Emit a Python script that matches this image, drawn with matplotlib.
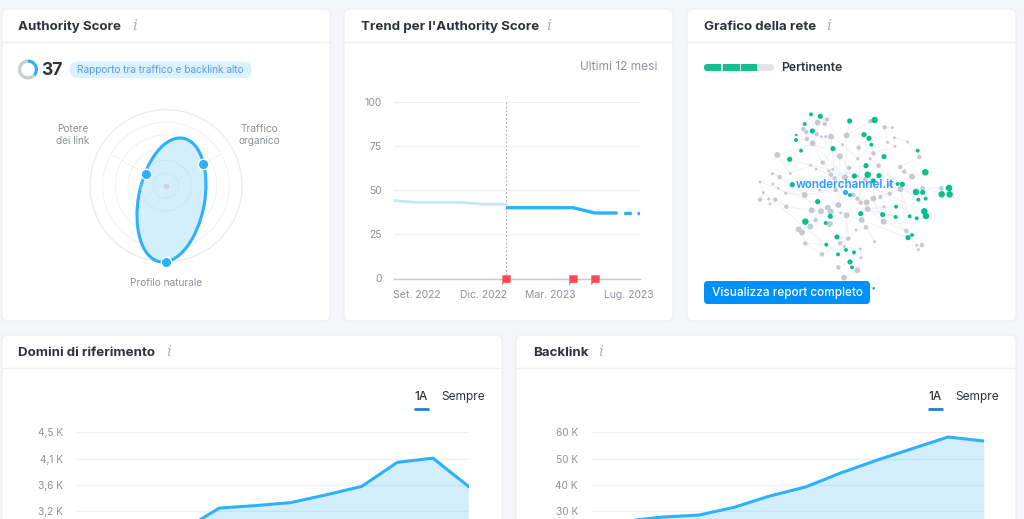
import numpy as np
import matplotlib
matplotlib.use("Agg")
import matplotlib.pyplot as plt
from matplotlib.patches import FancyBboxPatch, Ellipse, Circle, Rectangle
from matplotlib.path import Path

plt.rcParams['font.family'] = ['Inter', 'DejaVu Sans']

W, H = 1024, 519

# radar
radar_labels = ["Potere\ndei link", "Traffico\norganico", "Profilo naturale"]
radar_angles = [150, 30, 270]
radar_values = [31, 56, 100]
authority_score = 37

# trend
trend_past_x = [0, 1, 2, 3, 4, 5]
trend_past = [44, 43, 43, 43, 42, 42]
trend_now_x = [5, 6, 7, 8, 9, 10]
trend_now = [40, 40, 40, 40, 37, 37]
trend_next_x = [10, 11]
trend_next = [37, 37]
trend_flags = [5, 8, 9]
trend_ticks = [1, 4, 7, 10.5]
trend_ticklabels = ["Set. 2022", "Dic. 2022", "Mar. 2023", "Lug. 2023"]
trend_yticks = [0, 25, 50, 75, 100]

# network, read in 3x pixels of the crop
green_nodes = [(183,43,2),(211,49,3),(164,72,2),(187,93,3),(139,105,1),(138,120,2),(299,63,3),(374,60,4),
    (342,104,3),(357,115,3),(364,134,2),(249,146,3),(153,152,2),(119,178,3),(402,170,3),(503,152,2),
    (348,197,3),(526,217,4),(313,228,3),(353,224,4),(387,227,3),(127,254,3),(370,243,3),(443,252,2),
    (457,253,3),(498,276,4),(518,277,3),(575,283,4),(599,283,4),(597,264,4),(505,299,2),(527,296,2),
    (203,305,3),(300,285,2),(438,320,2),(523,334,4),(528,348,4),(332,341,3),(398,344,3),(437,351,2),
    (479,349,2),(500,355,2),(241,349,3),(166,365,4),(227,369,2),(486,405,2),(474,413,3),(261,411,3),
    (229,434,2),(288,450,2),(264,463,2),(312,457,2),(300,486,3),(306,502,2),(371,565,1)]
grey_nodes = [(203,68,3),(231,58,2),(224,72,2),(160,87,2),(169,96,2),(200,103,2),(214,110,1),(227,110,1),
    (243,110,3),(171,117,2),(188,130,3),(290,106,3),(361,64,2),(404,82,2),(427,83,1),(413,127,1),
    (433,113,1),(435,139,1),(473,126,1),(278,135,1),(326,143,2),(370,160,2),(270,169,3),(82,165,3),
    (323,176,1),(360,176,1),(218,188,2),(182,196,1),(198,207,1),(297,204,2),(386,197,2),(451,201,2),
    (463,215,2),(486,230,3),(508,171,2),(236,213,1),(248,208,1),(243,224,2),(254,235,2),(285,232,3),
    (323,228,1),(346,238,2),(67,221,1),(89,231,2),(121,220,1),(30,246,1),(68,252,1),(85,265,1),
    (107,280,1),(40,278,1),(30,299,2),(56,297,1),(76,299,2),(60,312,1),(109,320,2),(164,285,3),
    (209,270,1),(257,270,2),(265,315,3),(310,285,2),(322,296,2),(332,308,2),(350,307,3),(370,296,3),
    (391,291,2),(419,281,2),(420,254,2),(451,267,3),(353,327,3),(402,320,1),(185,331,3),(213,334,3),
    (233,323,3),(242,335,3),(197,360,2),(239,372,3),(181,380,3),(146,388,3),(156,397,3),(272,339,1),
    (290,346,3),(335,360,3),(401,365,3),(348,382,2),(318,390,1),(295,416,2),(374,425,1),(166,430,2),
    (216,463,2),(270,430,2),(283,440,1),(331,447,1),(333,473,1),(265,502,2),(322,511,3),(282,533,3),
    (469,393,2),(500,436,1),(516,435,2),(505,449,1),(574,265,2),(518,264,2)]
centre_node = (285, 275)
grey_edges = [(0,1),(0,5),(1,2),(3,4),(4,9),(5,10),(6,22),(7,22),(8,19),(9,10),(10,22),(10,26),(11,19),(11,12),
    (12,13),(13,14),(13,15),(15,17),(16,18),(17,21),(18,34),(19,24),(20,24),(21,30),(22,29),(23,44),(23,10),
    (24,39),(25,40),(26,35),(27,44),(28,37),(29,39),(30,41),(31,32),(32,33),(33,65),(34,31),(35,39),(36,39),
    (37,57),(38,39),(39,59),(40,59),(41,60),(42,45),(42,43),(43,55),(44,55),(45,49),(46,47),(47,48),(48,55),
    (49,50),(50,51),(51,52),(52,54),(53,51),(54,70),(55,57),(56,57),(57,59),(58,59),(59,60),(60,61),(61,62),
    (62,63),(63,64),(64,65),(65,67),(66,67),(62,68),(68,69),(69,96),(70,71),(71,72),(72,73),(73,79),(74,76),
    (75,80),(76,77),(77,78),(78,87),(79,80),(80,85),(81,83),(82,96),(83,84),(84,85),(85,89),(86,81),(87,88),
    (88,89),(89,90),(90,91),(91,92),(92,94),(93,95),(94,95),(96,97),(97,98),(98,99),(100,101),(101,67),
    (39,58),(58,80),(80,90),(29,59),(22,58),(20,61),(11,39),(8,57),(10,39),(68,82),(67,96),(63,82)]
green_edges = [(0,3),(1,0),(2,3),(3,10),(4,5),(5,9),(6,11),(7,12),(8,20),(9,21),(10,24),(11,26),(12,10),(13,27),
    (14,30),(15,34),(16,29),(17,33),(18,39),(19,41),(20,30),(21,55),(22,63),(23,66),(24,67),(25,67),(26,101),
    (27,100),(28,27),(29,100),(30,25),(31,26),(32,71),(33,59),(34,68),(35,36),(36,96),(37,62),(38,68),(39,68),
    (40,67),(41,40),(42,73),(43,74),(44,75),(45,96),(46,45),(47,85),(48,87),(49,89),(50,49),(51,91),(52,93),(53,94),(54,95)]

# bottom charts
domains_x = [3, 4, 5, 6, 7, 8, 9, 10, 11]
domains = [2.88, 3.24, 3.28, 3.33, 3.46, 3.60, 4.00, 4.07, 3.60]
domains_yticks = [4.5, 4.0625, 3.625, 3.1875]
domains_ylabels = ["4,5 K", "4,1 K", "3,6 K", "3,2 K"]
backlinks_x = [1, 2, 3, 4, 5, 6, 7, 8, 9, 10, 11]
backlinks = [26.3, 27.8, 28.5, 31.5, 35.8, 39.2, 44.6, 49.4, 53.8, 58.2, 56.7]
backlinks_yticks = [60, 50, 40, 30]
backlinks_ylabels = ["60 K", "50 K", "40 K", "30 K"]

BLUE = '#2eb0ff'
FILL = '#d3effe'
GRID = '#eef0f3'
DARK = '#2f323c'
GREY = '#8d919b'
GREEN = '#05c08e'
NODE = '#c6c9d1'

fig = plt.figure(figsize=(W / 100, H / 100), dpi=100, facecolor='#f4f6f9')
bg = fig.add_axes([0, 0, 1, 1])
bg.set_xlim(0, W)
bg.set_ylim(H, 0)
bg.axis('off')


def axes_px(x0, y0, x1, y1):
    a = fig.add_axes([x0 / W, 1 - y1 / H, (x1 - x0) / W, (y1 - y0) / H])
    a.patch.set_alpha(0)
    return a


def card(x0, y0, x1, y1, title, title_x, icon_x):
    bg.add_patch(FancyBboxPatch((x0 + 5, y0 + 5), x1 - x0 - 10, y1 - y0 - 10, boxstyle="round,pad=5,rounding_size=6",
                                fc='white', ec='#e9ebef', lw=0.6))
    bg.plot([x0, x1], [y0 + 33, y0 + 33], color='#eceef1', lw=1)
    bg.text(title_x, y0 + 18, title, fontsize=9.6, fontweight='bold', color=DARK, va='center')
    bg.text(icon_x, y0 + 17.5, "i", fontsize=11, color='#b0b4bc', va='center', ha='center', style='italic',
            family='DejaVu Serif')


card(2, 9, 330, 321, "Authority Score", 18, 135)
card(344, 9, 673, 321, "Trend per l'Authority Score", 361, 549)
card(687, 9, 1016, 321, "Grafico della rete", 704, 829)
card(2, 335, 502, 560, "Domini di riferimento", 18, 169)
card(516, 335, 1016, 560, "Backlink", 533, 601)

# score donut and pill
donut = axes_px(18, 59.5, 38, 79.5)
donut.pie([authority_score, 100 - authority_score], colors=[BLUE, '#c8ccd4'], startangle=90, counterclock=False,
          radius=1.25, wedgeprops={'width': 0.4})
donut.set_xlim(-1.25, 1.25)
donut.set_ylim(-1.25, 1.25)
bg.text(41, 70.5, str(authority_score), fontsize=12.5, fontweight='bold', color=DARK, va='center')
bg.add_patch(FancyBboxPatch((69.5, 61.5), 182, 16.5, boxstyle="round,pad=0,rounding_size=8", fc='#dcf1fe', ec='none'))
bg.text(160.5, 70, "Rapporto tra traffico e backlink alto", fontsize=7.25, color='#5a9be0', va='center', ha='center')

# radar
radar = axes_px(166 - 84, 185.7 - 84, 166 + 84, 185.7 + 84)
radar.set_xlim(-110.5, 110.5)
radar.set_ylim(-110.5, 110.5)
radar.set_aspect('equal')
radar.axis('off')
radar.add_patch(Circle((0, 0), 100, fc='none', ec='#ebecef', lw=1))
for level in [16.7, 33.3, 50, 66.7, 83.3]:
    radar.add_patch(Circle((0, 0), level, fc='none', ec='#e0e2e6', lw=0.6, ls=(0, (1.5, 1.5))))
radar.add_patch(Ellipse((7.2, -18.8), 86.8, 165.3, angle=-10.9, fc=FILL, ec=BLUE, lw=2.2, clip_on=False, zorder=2))
theta = np.radians(radar_angles)
for t in theta:
    radar.plot([0, 83.3 * np.cos(t)], [0, 83.3 * np.sin(t)], color='#dfe2e7', lw=0.6, ls=(0, (1.5, 1.5)), zorder=3)
for level in [16.7, 33.3]:
    radar.add_patch(Circle((0, 0), level, fc='none', ec='#bfdcec', lw=0.6, ls=(0, (1.5, 1.5)), zorder=3))
radar.plot(0, 0, 'o', ms=3, color='#c5d5e6', zorder=3)
radar.plot(np.array(radar_values) * np.cos(theta), np.array(radar_values) * np.sin(theta), 'o', ms=7.5, color=BLUE,
           mec='white', mew=0.9, ls='none', clip_on=False, zorder=4)
bg.text(73, 135.5, radar_labels[0], fontsize=7.3, color=GREY, ha='center', va='center', linespacing=1.25)
bg.text(259, 135.5, radar_labels[1], fontsize=7.3, color=GREY, ha='center', va='center', linespacing=1.25)
bg.text(166, 282.5, radar_labels[2], fontsize=7.3, color=GREY, ha='center', va='center')

# trend
trend = axes_px(394, 101.5, 640, 278.5)
trend.set_xlim(0, 11)
trend.set_ylim(0, 100)
for s in trend.spines.values():
    s.set_visible(False)
trend.set_yticks(trend_yticks)
trend.set_xticks(trend_ticks)
trend.set_xticklabels(trend_ticklabels)
trend.tick_params(length=0, labelsize=7.5, labelcolor=GREY)
trend.tick_params(axis='x', pad=8.5)
trend.tick_params(axis='y', pad=9)
trend.grid(axis='y', color=GRID, lw=1)
trend.axhline(0, color='#c5c9d0', lw=1, clip_on=False)
trend.axvline(5, color='#a9aeb8', lw=0.7, ls=(0, (2, 2)))
trend.plot(trend_past_x, trend_past, color='#c3e8fc', lw=2)
trend.plot(trend_now_x, trend_now, color=BLUE, lw=2.4, solid_capstyle='butt')
trend.plot(trend_next_x, trend_next, color=BLUE, lw=2.4, ls=(2.3, (2.3, 1.7)))
flag = Path([(-1, -1), (1, -1), (1, 0.8), (-0.6, 0.8), (-1, 1.4), (-1, -1)])
flag = Path(flag.vertices * [1, -1], flag.codes)
trend.plot(trend_flags, [0] * len(trend_flags), ls='none', marker=flag, ms=8.5, color='#ff4953', mec='none',
           clip_on=False, zorder=5)
bg.text(657, 67.5, "Ultimi 12 mesi", fontsize=8.6, color=GREY, ha='right', va='center')

# network
bg.add_patch(FancyBboxPatch((704, 64), 70, 7, boxstyle="round,pad=0,rounding_size=3.5", fc='#e1e4e9', ec='none'))
bg.add_patch(FancyBboxPatch((704, 64), 14, 7, boxstyle="round,pad=0,rounding_size=3.5", fc='#11c08f', ec='none'))
for x0, x1 in [(710, 721), (723, 740), (741, 757)]:
    bg.add_patch(Rectangle((x0, 64), x1 - x0, 7, fc='#11c08f', ec='none'))
bg.text(781, 68, "Pertinente", fontsize=8.8, fontweight='semibold', color=DARK, va='center')

net = axes_px(750, 100, 960, 290)
net.set_xlim(0, 630)
net.set_ylim(570, 0)
net.axis('off')
gx = [n[0] for n in grey_nodes]
gy = [n[1] for n in grey_nodes]
gs = [n[2] for n in grey_nodes]
nx = [n[0] for n in green_nodes]
ny = [n[1] for n in green_nodes]
ns = [n[2] for n in green_nodes]
for a, b in grey_edges:
    net.plot([gx[a], gx[b]], [gy[a], gy[b]], color='#eff0f3', lw=0.6, zorder=1)
for a, b in green_edges:
    net.plot([nx[a], gx[b]], [ny[a], gy[b]], color='#eff0f3', lw=0.6, zorder=1)
grey_sizes = {1: 4.5, 2: 10, 3: 18}
green_sizes = {1: 3.5, 2: 8, 3: 14, 4: 22}
net.scatter(gx, gy, s=[grey_sizes[v] for v in gs], color=NODE, lw=0, zorder=2)
net.scatter(nx, ny, s=[green_sizes[v] for v in ns], color=GREEN, lw=0, zorder=3)
net.scatter(*centre_node, s=14, color=BLUE, lw=0, zorder=4)

# drawn in a top axes so it stays above the network
top = fig.add_axes([0, 0, 1, 1])
top.set_xlim(0, W)
top.set_ylim(H, 0)
top.axis('off')
top.patch.set_alpha(0)
top.add_patch(FancyBboxPatch((704, 281), 166, 23, boxstyle="round,pad=0,rounding_size=4", fc='#0090f8', ec='none'))
top.text(787, 293, "Visualizza report completo", fontsize=8.5, fontweight='medium', color='white', ha='center',
         va='center')
top.text(845, 185, "wonderchannel.it", fontsize=8.4, fontweight='semibold', color='#2e9bff', ha='center', va='center')


def area_chart(x0, x1, xs, ys, yticks, ylabels, step):
    a = axes_px(x0, 432.3, x1, H)
    a.set_xlim(0, 11)
    top_val = yticks[0]
    a.set_ylim(top_val - (H - 432.3) / 26.3 * step, top_val)
    for s in a.spines.values():
        s.set_visible(False)
    a.set_xticks([])
    a.set_yticks(yticks)
    a.set_yticklabels(ylabels)
    a.tick_params(length=0, labelsize=7.3, labelcolor=GREY, pad=10)
    a.grid(axis='y', color=GRID, lw=1, zorder=0)
    a.set_axisbelow(True)
    a.fill_between(xs, ys, a.get_ylim()[0], color=BLUE, alpha=0.21, lw=0)
    a.plot(xs, ys, color=BLUE, lw=2.2, solid_joinstyle='round')
    return a


area_chart(77, 468.5, domains_x, domains, domains_yticks, domains_ylabels, 0.4375)
area_chart(591.7, 983.7, backlinks_x, backlinks, backlinks_yticks, backlinks_ylabels, 10)

# range tabs
for x_a, x_s, x_line in [(421, 463.5, 421), (935, 977.5, 935)]:
    bg.text(x_a, 397, "1A", fontsize=8.5, fontweight='medium', color=DARK, ha='center', va='center')
    bg.text(x_s, 397, "Sempre", fontsize=8.6, color=DARK, ha='center', va='center')
    bg.plot([x_line - 7.5, x_line + 7.5], [408.5, 408.5], color='#1b80dc', lw=2, solid_capstyle='butt')

fig.savefig("out.png", dpi=100, facecolor=fig.get_facecolor())
